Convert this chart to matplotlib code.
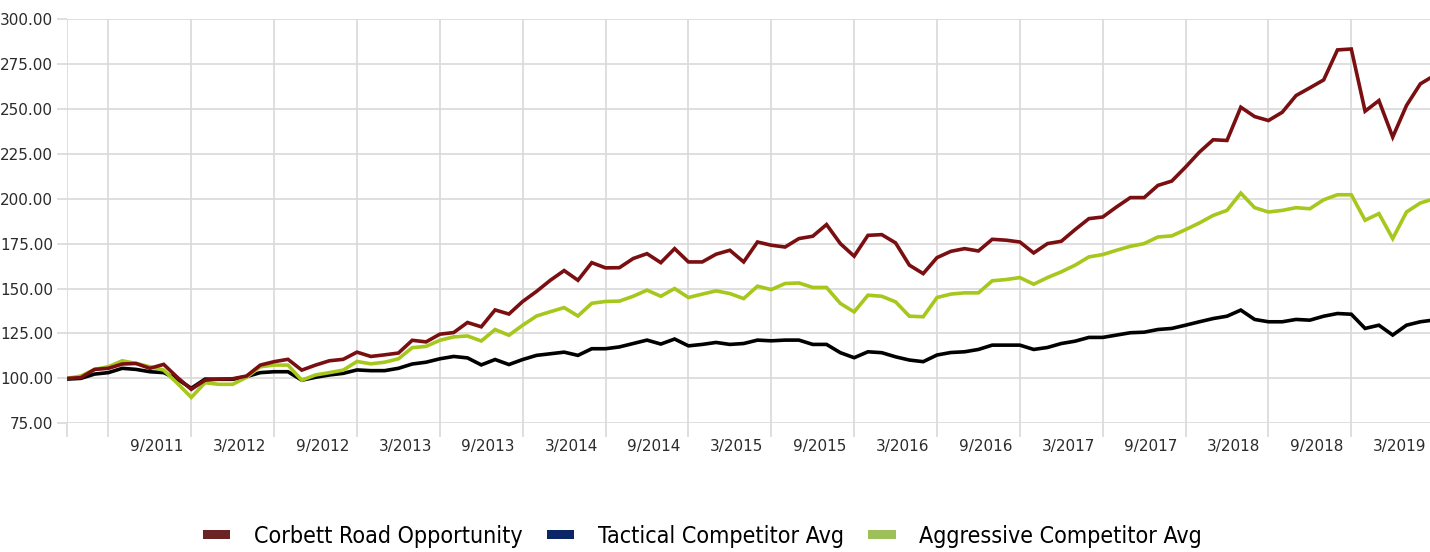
import matplotlib
matplotlib.use('Agg')
import matplotlib.pyplot as plt
from matplotlib.patches import Patch
from matplotlib.ticker import FixedLocator, NullFormatter
import pandas as pd

# ── Data (growth of 100, monthly from 3/2011) ─────────────────────
months = pd.date_range('2011-03-01', periods=100, freq='MS')

corbett = [
    100, 100.4, 105, 105.6, 108, 108.3, 105.6, 107.8, 100.5, 93.9,
    99, 99.6, 99.8, 101.3, 107.4, 109.3, 110.6, 104.6, 107.4, 109.8,
    110.6, 114.6, 112.2, 113.1, 114.1, 121.2, 120.3, 124.6, 125.5, 131.1,
    128.7, 138.1, 135.8, 142.8, 148.4, 154.6, 160, 154.6, 164.4, 161.5,
    161.6, 166.7, 169.4, 164.4, 172.2, 164.8, 164.8, 169.1, 171.3, 164.8,
    175.9, 174.1, 173.1, 177.8, 179.1, 185.6, 175, 168, 179.6, 180,
    175.4, 163, 158.3, 167.2, 170.7, 172.2, 170.9, 177.4, 176.9, 175.9,
    169.8, 175, 176.3, 182.8, 188.9, 189.8, 195.4, 200.6, 200.6, 207.4,
    209.8, 217.6, 225.9, 232.8, 232.4, 250.9, 245.7, 243.5, 248.1, 257.4,
    261.7, 266.1, 282.8, 283.3, 248.7, 254.6, 234.3, 251.9, 263.9, 268.5,
]

tactical = [
    99.6, 100, 102.4, 103.2, 105.6, 105, 103.7, 103.2, 99.5, 94.5,
    99.6, 99.5, 99.5, 101, 103.2, 103.7, 103.7, 99, 100.6, 101.9,
    102.8, 104.7, 104.3, 104.3, 105.6, 108, 109, 110.9, 112.2, 111.4,
    107.5, 110.5, 107.7, 110.5, 112.8, 113.7, 114.6, 112.8, 116.5, 116.5,
    117.5, 119.4, 121.3, 119.1, 121.9, 118.1, 118.9, 120, 118.9, 119.4,
    121.3, 120.9, 121.3, 121.3, 118.9, 118.9, 114.3, 111.5, 114.8, 114.3,
    112, 110.2, 109.3, 113, 114.4, 114.8, 116.1, 118.5, 118.5, 118.5,
    116.1, 117.2, 119.4, 120.7, 122.8, 122.8, 124.1, 125.4, 125.7, 127.2,
    127.8, 129.6, 131.5, 133.3, 134.6, 138, 132.8, 131.5, 131.5, 132.8,
    132.4, 134.6, 136.1, 135.7, 127.8, 129.6, 124.1, 129.6, 131.5, 132.5,
]

aggressive = [
    100, 101.3, 105, 106.5, 109.8, 108.3, 106.5, 104.6, 97.2, 89.4,
    97.6, 96.7, 96.7, 100.6, 106.5, 107.4, 107.4, 99, 101.9, 103.2,
    104.6, 109.4, 108.1, 109, 110.9, 117.1, 117.8, 121.2, 123.1, 123.6,
    120.8, 127.2, 124, 129.6, 134.7, 137.1, 139.4, 134.7, 141.8, 142.8,
    143, 145.7, 149.1, 145.7, 150, 145, 146.9, 148.7, 147.2, 144.4,
    151.3, 149.4, 152.8, 153.1, 150.6, 150.6, 141.7, 137, 146.3, 145.7,
    142.6, 134.6, 134.3, 145, 146.9, 147.6, 147.6, 154.3, 155, 156.1,
    152.4, 156.1, 159.3, 163, 167.6, 168.9, 171.3, 173.5, 175, 178.7,
    179.3, 182.8, 186.5, 190.7, 193.5, 203.1, 195, 192.6, 193.5, 195,
    194.4, 199.4, 202.2, 202.2, 188, 191.7, 177.8, 192.6, 197.6, 200,
]

series_names = ['Corbett Road Opportunity', 'Tactical Competitor Avg',
                'Aggressive Competitor Avg']
tick_labels = ['9/2011', '3/2012', '9/2012', '3/2013', '9/2013', '3/2014',
               '9/2014', '3/2015', '9/2015', '3/2016', '9/2016', '3/2017',
               '9/2017', '3/2018', '9/2018', '3/2019']
y_ticks = [75, 100, 125, 150, 175, 200, 225, 250, 275, 300]

# ── Styling ───────────────────────────────────────────────────────
line_colors = ['#7a0f12', '#000000', '#a6c71c']
legend_colors = ['#6b2424', '#0c2566', '#9dc05a']
grid_color = '#d9d9d9'
label_color = '#2b2b2b'

plt.rcParams['font.family'] = ['DejaVu Sans']

fig = plt.figure(figsize=(14.3, 5.52), dpi=100)
ax = fig.add_axes([67 / 1430, 1 - 423.3 / 552, 1 - 67 / 1430, (423.3 - 19) / 552])

x = list(range(len(months)))
month_keys = [f'{d.month}/{d.year}' for d in months]

# draw black first, then green, red on top
for idx in [1, 2, 0]:
    vals = [corbett, tactical, aggressive][idx]
    ax.plot(x, vals, color=line_colors[idx], lw=2.6, solid_joinstyle='miter',
            zorder=3 + (idx == 0))

ax.set_xlim(0, 98.7)
ax.set_ylim(75, 300)

# labels sit mid-period, gridlines between the half-year periods
label_pos = [month_keys.index(t) + 0.5 for t in tick_labels]
grid_pos = [0] + [p - 3.5 for p in label_pos] + [label_pos[-1] + 2.5]

ax.xaxis.set_major_locator(FixedLocator(label_pos))
ax.set_xticklabels(tick_labels)
ax.xaxis.set_minor_locator(FixedLocator(grid_pos))
ax.xaxis.set_minor_formatter(NullFormatter())
ax.tick_params(axis='x', which='major', length=0, pad=11, labelsize=11,
               labelcolor=label_color)
ax.tick_params(axis='x', which='minor', length=10, width=1.2, color=grid_color)

ax.set_yticks(y_ticks)
ax.set_yticklabels([f'{v:.2f}' for v in y_ticks])
ax.tick_params(axis='y', length=7, width=1.2, color=grid_color, pad=3,
               labelsize=11, labelcolor=label_color)

ax.grid(True, axis='y', color=grid_color, lw=1.2, zorder=0)
ax.grid(True, axis='x', which='minor', color=grid_color, lw=1.2, zorder=0)
ax.grid(False, axis='x', which='major')
for s in ax.spines.values():
    s.set_visible(False)

# ── Legend ────────────────────────────────────────────────────────
handles = [Patch(facecolor=c, edgecolor='none') for c in legend_colors]
fig.legend(handles, series_names, loc='center', bbox_to_anchor=(0.491, 0.028),
           ncol=3, frameon=False, handlelength=1.2, handleheight=0.17,
           handletextpad=1.0, columnspacing=1.05,
           prop={'family': ['Liberation Sans Narrow', 'DejaVu Sans'],
                 'stretch': 'condensed', 'size': 16.7})

fig.savefig('out.png', dpi=100)
